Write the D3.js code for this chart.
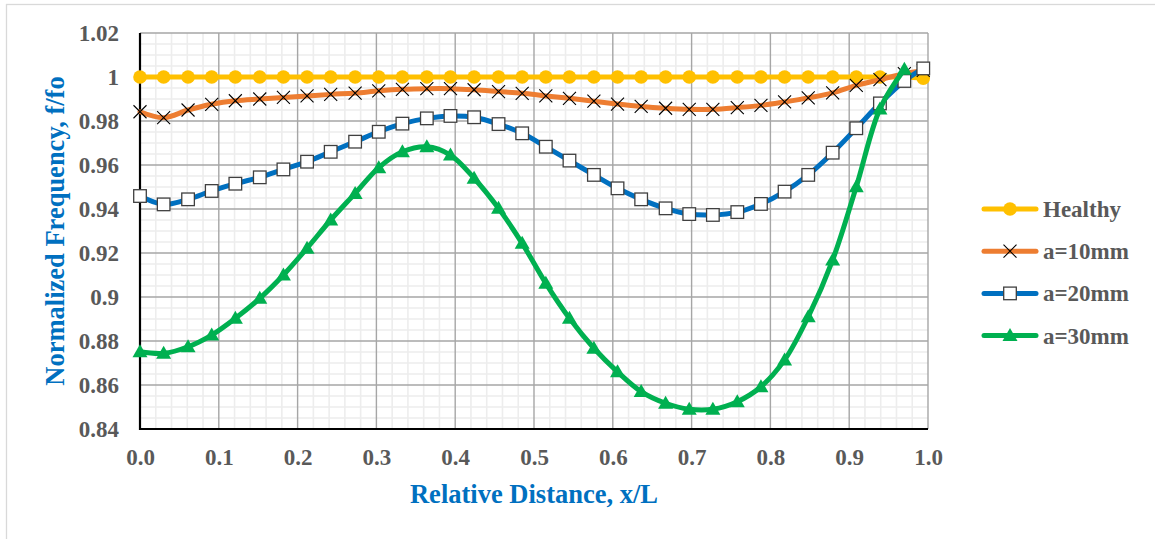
<!DOCTYPE html>
<html>
<head>
<meta charset="utf-8">
<script src="https://cdn.jsdelivr.net/npm/d3@7"></script>
<style>
  html, body { margin: 0; padding: 0; background: #fff; }
  svg { display: block; }
</style>
</head>
<body>
<svg id="chart"></svg>
<script>
'use strict';

// relative distance x/L of each measuring point
var xValues = [0, 0.030, 0.061, 0.091, 0.121, 0.152, 0.182, 0.212, 0.242, 0.273,
  0.303, 0.333, 0.364, 0.394, 0.424, 0.455, 0.485, 0.515, 0.545, 0.576,
  0.606, 0.636, 0.667, 0.697, 0.727, 0.758, 0.788, 0.818, 0.848, 0.879,
  0.909, 0.939, 0.970, 0.994];

var healthy = [1, 1, 1, 1, 1, 1, 1, 1, 1, 1, 1, 1, 1, 1, 1, 1, 1,
  1, 1, 1, 1, 1, 1, 1, 1, 1, 1, 1, 1, 1, 1, 1, 1, 0.9995];

var a10 = [0.9842, 0.9815, 0.9850, 0.9876, 0.9892, 0.9900, 0.9907, 0.9914, 0.9921, 0.9927,
  0.9937, 0.9944, 0.9947, 0.9947, 0.9942, 0.9934, 0.9926, 0.9914, 0.9903, 0.9890,
  0.9877, 0.9866, 0.9858, 0.9853, 0.9853, 0.9861, 0.9871, 0.9887, 0.9905, 0.9928,
  0.9962, 0.9988, 1.0015, 1.0030];

var a20 = [0.9459, 0.9421, 0.9444, 0.9482, 0.9515, 0.9544, 0.9580, 0.9615, 0.9660, 0.9706,
  0.9751, 0.9788, 0.9812, 0.9823, 0.9817, 0.9786, 0.9744, 0.9683, 0.9620, 0.9555,
  0.9494, 0.9444, 0.9403, 0.9377, 0.9373, 0.9386, 0.9423, 0.9479, 0.9555, 0.9656,
  0.9767, 0.9880, 0.9982, 1.0039];

var a30 = [0.8751, 0.8744, 0.8774, 0.8827, 0.8903, 0.8994, 0.9100, 0.9222, 0.9350, 0.9471,
  0.9588, 0.9660, 0.9683, 0.9645, 0.9540, 0.9403, 0.9244, 0.9062, 0.8903, 0.8767,
  0.8660, 0.8570, 0.8517, 0.8490, 0.8490, 0.8524, 0.8592, 0.8714, 0.8910, 0.9168,
  0.9501, 0.9855, 1.0035];

var seriesNames = ['Healthy', 'a=10mm', 'a=20mm', 'a=30mm'];
var xTicks = [0, 0.1, 0.2, 0.3, 0.4, 0.5, 0.6, 0.7, 0.8, 0.9, 1.0];
var yTicks = [0.84, 0.86, 0.88, 0.9, 0.92, 0.94, 0.96, 0.98, 1, 1.02];
var yTickLabels = ['0.84', '0.86', '0.88', '0.9', '0.92', '0.94', '0.96', '0.98', '1', '1.02'];

var width = 1155,
  height = 539,
  plot = {left: 140, right: 928, top: 33, bottom: 429},
  serif = '"Liberation Serif", "Times New Roman", serif',
  labelGray = '#595959',
  titleBlue = '#0070C0';

var series = [
  {name: seriesNames[0], values: healthy, color: '#FFC000', marker: 'circle'},
  {name: seriesNames[1], values: a10, color: '#ED7D31', marker: 'cross'},
  {name: seriesNames[2], values: a20, color: '#0070C0', marker: 'square'},
  {name: seriesNames[3], values: a30, color: '#00B050', marker: 'triangle'}
];

var svg = d3.select('#chart').attr('width', width).attr('height', height);

var x = d3.scaleLinear().domain([0, 1]).range([plot.left, plot.right]);
var y = d3.scaleLinear().domain([0.84, 1.02]).range([plot.bottom, plot.top]);

// outer chart border
svg.append('rect')
  .attr('x', 6.5).attr('y', 4.5)
  .attr('width', 1160).attr('height', 545)
  .attr('fill', '#fff').attr('stroke', '#D9D9D9').attr('stroke-width', 1.3);

// minor grid
var minorX = d3.range(0, 50).map(function (i) { return i * 0.02; }).filter(function (v, i) { return i % 5 !== 0; });
var minorY = d3.range(0, 36).map(function (i) { return 0.84 + i * 0.005; }).filter(function (v, i) { return i % 4 !== 0; });

var grid = svg.append('g');
grid.selectAll('line.minx').data(minorX).enter().append('line')
  .attr('x1', function (d) { return x(d); }).attr('x2', function (d) { return x(d); })
  .attr('y1', plot.top).attr('y2', plot.bottom)
  .attr('stroke', '#EDEDED').attr('stroke-width', 1.6);
grid.selectAll('line.miny').data(minorY).enter().append('line')
  .attr('y1', function (d) { return y(d); }).attr('y2', function (d) { return y(d); })
  .attr('x1', plot.left).attr('x2', plot.right)
  .attr('stroke', '#EDEDED').attr('stroke-width', 1.6);

// major grid
grid.selectAll('line.majx').data(xTicks).enter().append('line')
  .attr('x1', function (d) { return x(d); }).attr('x2', function (d) { return x(d); })
  .attr('y1', plot.top).attr('y2', plot.bottom)
  .attr('stroke', '#A6A6A6').attr('stroke-width', 1.4);
grid.selectAll('line.majy').data(yTicks).enter().append('line')
  .attr('y1', function (d) { return y(d); }).attr('y2', function (d) { return y(d); })
  .attr('x1', plot.left).attr('x2', plot.right)
  .attr('stroke', '#A6A6A6').attr('stroke-width', 1.4);

// axes
var xAxis = d3.axisBottom(x).tickValues(xTicks).tickSize(0).tickPadding(0)
  .tickFormat(d3.format('.1f'));
var yAxis = d3.axisLeft(y).tickValues(yTicks).tickSize(0).tickPadding(0)
  .tickFormat(function (d, i) { return yTickLabels[i]; });

var gx = svg.append('g').attr('transform', 'translate(0,' + plot.bottom + ')').call(xAxis);
var gy = svg.append('g').attr('transform', 'translate(' + plot.left + ',0)').call(yAxis);

[gx, gy].forEach(function (g) {
  g.select('.domain').remove();
  g.selectAll('text')
    .attr('font-family', serif).attr('font-size', 23).attr('font-weight', 'bold')
    .attr('fill', labelGray);
});
gx.selectAll('text').attr('y', 36).attr('dy', 0);
gy.selectAll('text').attr('x', -21).attr('dy', '0.34em');

svg.append('line')
  .attr('x1', plot.left).attr('x2', plot.right)
  .attr('y1', plot.bottom).attr('y2', plot.bottom)
  .attr('stroke', '#000').attr('stroke-width', 2.2);
svg.append('line')
  .attr('x1', plot.left).attr('x2', plot.left)
  .attr('y1', plot.top).attr('y2', plot.bottom + 1)
  .attr('stroke', '#000').attr('stroke-width', 2.2);

// axis titles
svg.append('text')
  .attr('x', (plot.left + plot.right) / 2).attr('y', 503)
  .attr('text-anchor', 'middle')
  .attr('font-family', serif).attr('font-size', 26.5).attr('font-weight', 'bold')
  .attr('fill', titleBlue)
  .text('Relative Distance, x/L');

svg.append('text')
  .attr('transform', 'translate(64,' + ((plot.top + plot.bottom) / 2) + ') rotate(-90)')
  .attr('text-anchor', 'middle')
  .attr('font-family', serif).attr('font-size', 26.5).attr('font-weight', 'bold')
  .attr('fill', titleBlue)
  .text('Normalized Frequency, f/fo');

function drawMarker(g, type, color) {
  switch (type) {
    case 'circle':
      g.append('circle').attr('r', 6.8).attr('fill', color);
      break;
    case 'cross':
      g.append('path').attr('d', 'M-6.5,-6.5L6.5,6.5M-6.5,6.5L6.5,-6.5')
        .attr('stroke', '#000').attr('stroke-width', 1.1).attr('fill', 'none');
      break;
    case 'square':
      g.append('rect').attr('x', -6.3).attr('y', -6.3).attr('width', 12.6).attr('height', 12.6)
        .attr('fill', '#fff').attr('stroke', '#404040').attr('stroke-width', 1.3);
      break;
    default:
      g.append('path').attr('d', 'M0,-7.5L7.5,5.5L-7.5,5.5Z').attr('fill', color);
  }
}

var line = d3.line()
  .x(function (d, i) { return x(xValues[i]); })
  .y(function (d) { return y(d); })
  .curve(d3.curveCatmullRom.alpha(0.5));

series.forEach(function (s) {
  var g = svg.append('g');
  g.append('path').datum(s.values)
    .attr('d', line)
    .attr('fill', 'none').attr('stroke', s.color).attr('stroke-width', 5)
    .attr('stroke-linejoin', 'round').attr('stroke-linecap', 'round');
  g.selectAll('g.mk').data(s.values).enter().append('g')
    .attr('transform', function (d, i) { return 'translate(' + x(xValues[i]) + ',' + y(d) + ')'; })
    .each(function () { drawMarker(d3.select(this), s.marker, s.color); });
});

// legend
var legend = svg.append('g').attr('transform', 'translate(1010,209)');
series.forEach(function (s, i) {
  var row = legend.append('g').attr('transform', 'translate(0,' + (i * 42.2) + ')');
  row.append('line').attr('x1', -26).attr('x2', 26)
    .attr('stroke', s.color).attr('stroke-width', 5).attr('stroke-linecap', 'round');
  drawMarker(row.append('g'), s.marker, s.color);
  row.append('text')
    .attr('x', 33).attr('dy', '0.35em')
    .attr('font-family', serif).attr('font-size', 23).attr('font-weight', 'bold')
    .attr('fill', labelGray)
    .text(s.name);
});
</script>
</body>
</html>
